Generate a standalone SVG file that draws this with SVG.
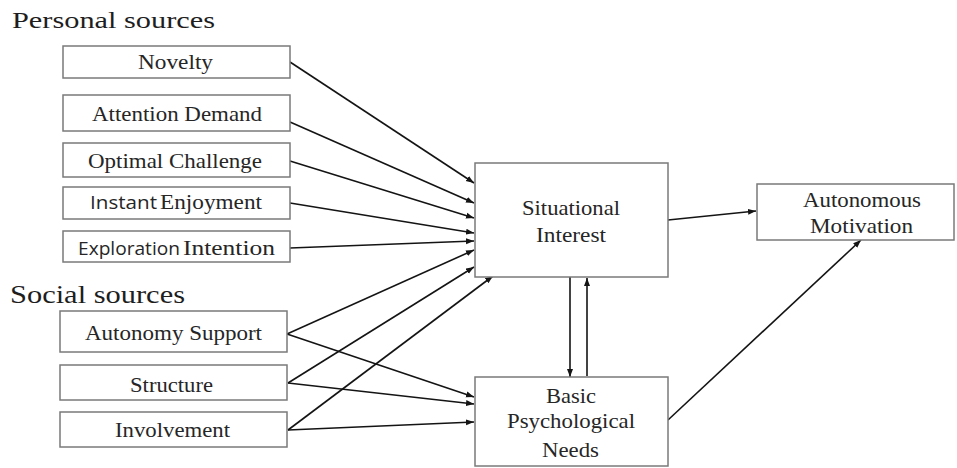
<svg xmlns="http://www.w3.org/2000/svg" width="957" height="468" viewBox="0 0 957 468">
  <style>
    .box { fill: #ffffff; stroke: #7a7a7a; stroke-width: 1.5; }
    .lbl { font-family: "Liberation Serif", "Times New Roman", serif; font-size: 21px; fill: #262626; }
    .sans { font-family: "Open Sans", "Liberation Sans", sans-serif; font-size: 19px; fill: #262626; }
    .head { font-family: "Liberation Serif", "Times New Roman", serif; fill: #1e1e1e; }
    .link { fill: none; stroke: #141414; stroke-width: 1.6; marker-end: url(#arrow); }
  </style>
  <defs>
    <marker id="arrow" markerUnits="userSpaceOnUse" markerWidth="9" markerHeight="7" refX="8" refY="3.5" orient="auto">
      <path d="M0,0.5 L8,3.5 L0,6.5 z" fill="#141414"/>
    </marker>
  </defs>
  <rect width="957" height="468" fill="#ffffff"/>

  <!-- section headings -->
  <text class="head" x="12" y="28" font-size="24" textLength="203" lengthAdjust="spacingAndGlyphs">Personal sources</text>
  <text class="head" x="10" y="303" font-size="26" textLength="175" lengthAdjust="spacingAndGlyphs">Social sources</text>

  <!-- connectors -->
  <g id="connectors">
    <line class="link" x1="290" y1="62" x2="474" y2="183"/>
    <line class="link" x1="290" y1="122" x2="474" y2="203"/>
    <line class="link" x1="290" y1="161" x2="474" y2="218"/>
    <line class="link" x1="290" y1="203" x2="474" y2="233"/>
    <line class="link" x1="290" y1="248" x2="474" y2="241"/>
    <line class="link" x1="287" y1="334" x2="474" y2="250"/>
    <line class="link" x1="288" y1="383" x2="474" y2="267"/>
    <line class="link" x1="288" y1="430" x2="493" y2="276"/>
    <line class="link" x1="287" y1="334" x2="474" y2="397"/>
    <line class="link" x1="288" y1="383" x2="474" y2="404"/>
    <line class="link" x1="288" y1="430" x2="474" y2="422"/>
    <line class="link" x1="668" y1="220" x2="756" y2="211"/>
    <line class="link" x1="668" y1="420" x2="861" y2="240"/>
    <line class="link" x1="570" y1="277" x2="570" y2="377"/>
    <line class="link" x1="587" y1="376" x2="587" y2="278"/>
  </g>

  <!-- personal sources -->
  <g id="novelty">
    <rect class="box" x="63" y="46" width="227" height="32"/>
    <text class="lbl" x="138" y="69" textLength="75" lengthAdjust="spacingAndGlyphs">Novelty</text>
  </g>
  <g id="attention-demand">
    <rect class="box" x="63" y="95" width="227" height="36"/>
    <text class="lbl" x="92" y="121" textLength="170" lengthAdjust="spacingAndGlyphs">Attention Demand</text>
  </g>
  <g id="optimal-challenge">
    <rect class="box" x="63" y="143" width="227" height="34"/>
    <text class="lbl" x="88" y="168" textLength="174" lengthAdjust="spacingAndGlyphs">Optimal Challenge</text>
  </g>
  <g id="instant-enjoyment">
    <rect class="box" x="63" y="187" width="227" height="32"/>
    <text class="sans" x="90" y="209" textLength="67" lengthAdjust="spacingAndGlyphs">Instant</text>
    <text class="lbl" x="160" y="209" textLength="102" lengthAdjust="spacingAndGlyphs">Enjoyment</text>
  </g>
  <g id="exploration-intention">
    <rect class="box" x="63" y="231" width="227" height="31"/>
    <text class="sans" x="78" y="255" textLength="102" lengthAdjust="spacingAndGlyphs">Exploration</text>
    <text class="lbl" x="183" y="255" textLength="92" lengthAdjust="spacingAndGlyphs">Intention</text>
  </g>

  <!-- social sources -->
  <g id="autonomy-support">
    <rect class="box" x="60" y="311" width="227" height="41"/>
    <text class="lbl" x="85" y="340" textLength="177" lengthAdjust="spacingAndGlyphs">Autonomy Support</text>
  </g>
  <g id="structure">
    <rect class="box" x="60" y="365" width="227" height="35"/>
    <text class="lbl" x="130" y="392" textLength="83" lengthAdjust="spacingAndGlyphs">Structure</text>
  </g>
  <g id="involvement">
    <rect class="box" x="60" y="412" width="227" height="35"/>
    <text class="lbl" x="115" y="437" textLength="115" lengthAdjust="spacingAndGlyphs">Involvement</text>
  </g>

  <!-- mediators and outcome -->
  <g id="situational-interest">
    <rect class="box" x="475" y="163" width="193" height="114"/>
    <text class="lbl" x="522" y="215" textLength="98" lengthAdjust="spacingAndGlyphs">Situational</text>
    <text class="lbl" x="536" y="242" textLength="70" lengthAdjust="spacingAndGlyphs">Interest</text>
  </g>
  <g id="basic-psychological-needs">
    <rect class="box" x="475" y="377" width="193" height="89"/>
    <text class="lbl" x="546" y="403" textLength="50" lengthAdjust="spacingAndGlyphs">Basic</text>
    <text class="lbl" x="507" y="428" textLength="128" lengthAdjust="spacingAndGlyphs">Psychological</text>
    <text class="lbl" x="542" y="457" textLength="57" lengthAdjust="spacingAndGlyphs">Needs</text>
  </g>
  <g id="autonomous-motivation">
    <rect class="box" x="757" y="184" width="197" height="56"/>
    <text class="lbl" x="803" y="207" textLength="118" lengthAdjust="spacingAndGlyphs">Autonomous</text>
    <text class="lbl" x="810" y="233" textLength="103" lengthAdjust="spacingAndGlyphs">Motivation</text>
  </g>
</svg>
